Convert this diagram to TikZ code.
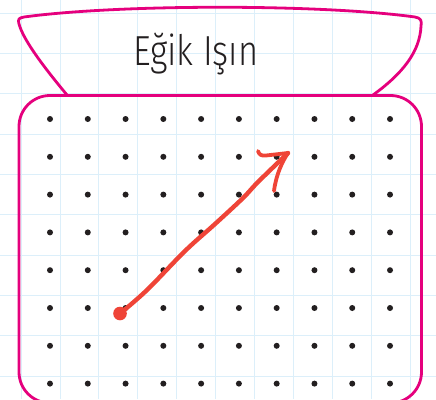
\documentclass[tikz,border=0pt]{standalone}
\usepackage{fontspec}
\newfontfamily\titlefont{Fira Sans Light}
\definecolor{gridblue}{HTML}{DCEFFA}
\definecolor{framepink}{HTML}{E5007D}
\definecolor{penred}{HTML}{EF4437}
\definecolor{dotblack}{HTML}{231F20}
\tikzset{
  gridline/.style={draw=gridblue, line width=1pt},
  pinkline/.style={draw=framepink, line width=2.8pt, line join=round},
  redpen/.style={draw=penred, line width=4.4pt, line cap=round, line join=round},
  griddot/.style={circle, fill=dotblack, inner sep=0pt, minimum size=6pt},
}
\begin{document}
\begin{tikzpicture}[x=1pt,y=-1pt]
\useasboundingbox (0,0) rectangle (436,399);
\clip (0,0) rectangle (436,399);
\fill[white] (0,0) rectangle (436,399);
% background grid
\foreach \k in {0,...,10} \draw[gridline] ({21.1+38.9*\k},0) -- ({21.1+38.9*\k},399);
\foreach \k in {0,...,9} \draw[gridline] (0,{13.3+40.3*\k}) -- (436,{13.3+40.3*\k});
% title tab
\draw[pinkline] (67,95) .. controls (48,72) and (24,42) .. (19,24)
  .. controls (17.5,19) and (19,18) .. (24,17)
  .. controls (120,4) and (320,4) .. (415,17)
  .. controls (421,18) and (422,21) .. (421,26)
  .. controls (420,52) and (402,74) .. (373,95);
\node[anchor=base west, inner sep=0pt, text=dotblack] (title) at (133,65)
  {\scalebox{0.82}[1]{\titlefont\fontsize{42}{42}\selectfont Eğik Işın}};
% main box
\draw[pinkline, rounded corners=31pt] (19,95.5) rectangle (421.5,403);
% dots
\foreach \i in {0,...,9} \foreach \j in {0,...,7}
  \node[griddot] (d-\i-\j) at ({50+37.78*\i},{119+37.8*\j}) {};
% ray
\coordinate (start) at (120,313.5);
\coordinate (tip) at (288,153);
\fill[penred] (start) circle (6.8pt);
\draw[redpen] plot[smooth, tension=0.6] coordinates {(start) (147,290) (185,251) (215,224) (243,198) (258,182) (tip)};
\draw[redpen, line width=3.8pt] (258,151) .. controls (259,155) and (262,156) .. (266,155.5) -- (tip);
\draw[redpen, line width=3.8pt] (tip) .. controls (282,162) and (276,175) .. (274,191);
\end{tikzpicture}
\end{document}
